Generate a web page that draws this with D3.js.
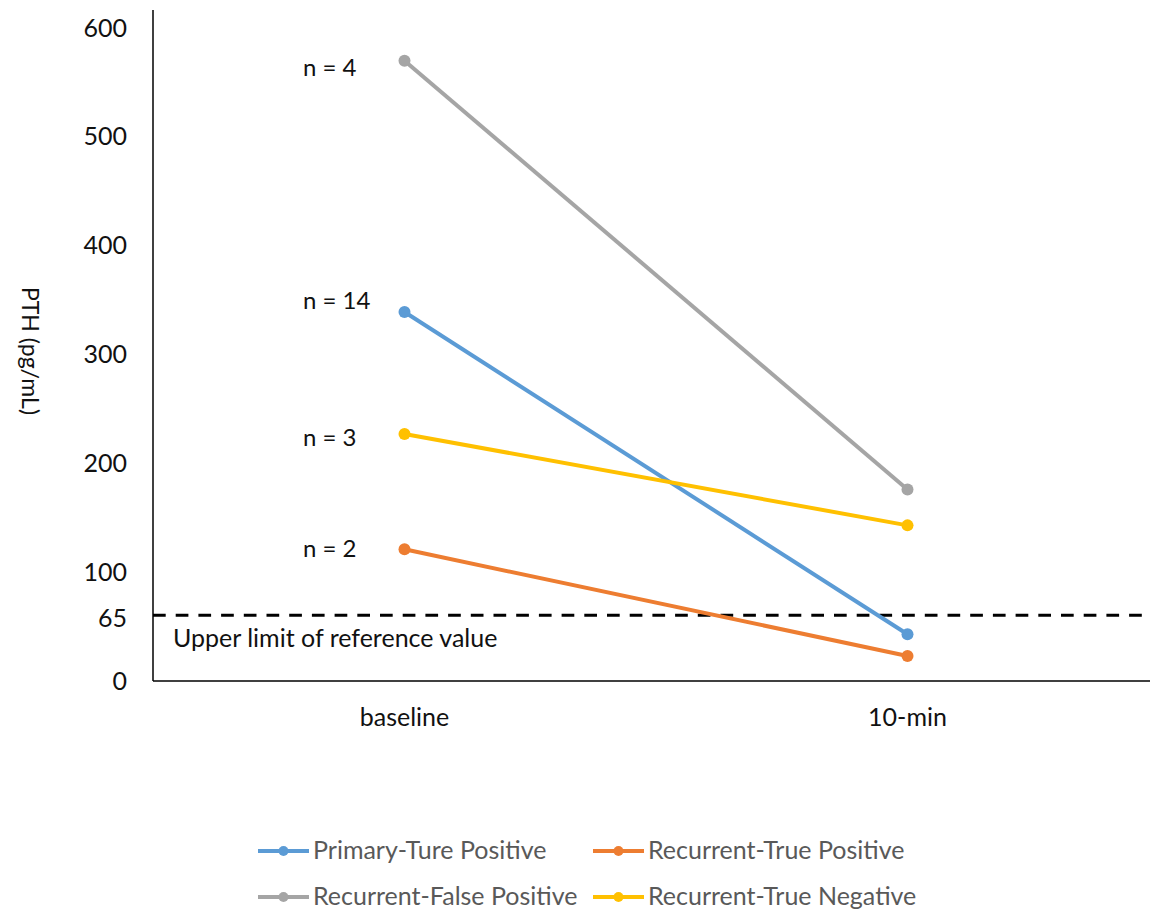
<!DOCTYPE html>
<html>
<head>
<meta charset="utf-8">
<script src="https://cdn.jsdelivr.net/npm/d3@7"></script>
<style>
  body { margin: 0; background: #fff; }
  text { font-family: Lato, "Open Sans", sans-serif; }
</style>
</head>
<body>
<div id="chart"></div>
<script>
// data
const timepoints = ["baseline", "10-min"];
const seriesNames = ["Primary-Ture Positive", "Recurrent-True Positive", "Recurrent-False Positive", "Recurrent-True Negative"];
const seriesColors = ["#5B9BD5", "#ED7D31", "#A5A5A5", "#FFC000"];
const primaryTP = [339, 43];
const recurrentTP = [121, 23];
const recurrentFP = [570, 176];
const recurrentTN = [227, 143];
const sampleSizes = ["n = 14", "n = 2", "n = 4", "n = 3"];
// where each n label sits, in PTH units
const sampleLabelAt = [349, 121, 563, 223];
const yTicks = [0, 100, 200, 300, 400, 500, 600];
// the dashed line is labelled 65 but drawn a bit lower in the original
const refLabel = "65";
const refLineAt = 60.5;

const w = 1150, h = 915;
const plotLeft = 153, plotRight = 1159, plotTop = 10, plotBottom = 681;
const fs = 25;

const svg = d3.select("#chart").append("svg")
  .attr("width", w)
  .attr("height", h);

const x = d3.scaleBand().domain(timepoints).range([plotLeft, plotRight]);
const y = d3.scaleLinear().domain([0, 600]).range([plotBottom, 28]);

const series = [primaryTP, recurrentTP, recurrentFP, recurrentTN].map((vals, i) => ({
  name: seriesNames[i],
  color: seriesColors[i],
  n: sampleSizes[i],
  nAt: sampleLabelAt[i],
  points: timepoints.map((t, j) => ({ t: t, v: vals[j] }))
}));

// axes (Excel style, no tick marks)
const yAxis = d3.axisLeft(y).tickValues(yTicks).tickSize(0).tickPadding(26);
const gy = svg.append("g")
  .attr("transform", "translate(" + plotLeft + ",0)")
  .call(yAxis);
gy.select(".domain").remove();
gy.selectAll("text").attr("font-size", fs).attr("fill", "#111").attr("font-family", "Lato, sans-serif");

svg.append("line")
  .attr("x1", plotLeft).attr("x2", plotLeft)
  .attr("y1", plotTop).attr("y2", plotBottom)
  .attr("stroke", "#000").attr("stroke-width", 1.5);

svg.append("line")
  .attr("x1", plotLeft).attr("x2", w)
  .attr("y1", plotBottom).attr("y2", plotBottom)
  .attr("stroke", "#000").attr("stroke-width", 1.5);

svg.append("text")
  .attr("x", plotLeft - 26)
  .attr("y", y(refLineAt) + 4)
  .attr("dy", "0.32em")
  .attr("text-anchor", "end")
  .attr("font-size", fs)
  .attr("fill", "#111")
  .text(refLabel);

const xAxis = d3.axisBottom(x).tickSize(0).tickPadding(27);
const gx = svg.append("g")
  .attr("transform", "translate(0," + plotBottom + ")")
  .call(xAxis);
gx.select(".domain").remove();
gx.selectAll("text").attr("font-size", fs).attr("fill", "#111").attr("font-family", "Lato, sans-serif");

svg.append("text")
  .attr("transform", "translate(22," + 351 + ") rotate(90)")
  .attr("text-anchor", "middle")
  .attr("font-size", 23)
  .attr("fill", "#111")
  .text("PTH (pg/mL)");

// reference line
svg.append("line")
  .attr("x1", plotLeft).attr("x2", 1146)
  .attr("y1", y(refLineAt)).attr("y2", y(refLineAt))
  .attr("stroke", "#000")
  .attr("stroke-width", 3)
  .attr("stroke-dasharray", "12.7,10");

svg.append("text")
  .attr("x", 173)
  .attr("y", y(refLineAt) + 24)
  .attr("dy", "0.32em")
  .attr("font-size", fs)
  .attr("fill", "#111")
  .text("Upper limit of reference value");

// lines
const line = d3.line()
  .x(d => x(d.t) + x.bandwidth() / 2)
  .y(d => y(d.v));

const g = svg.selectAll(".series")
  .data(series)
  .enter().append("g")
  .attr("class", "series");

g.append("path")
  .attr("d", d => line(d.points))
  .attr("fill", "none")
  .attr("stroke", d => d.color)
  .attr("stroke-width", 4);

g.selectAll("circle")
  .data(d => d.points.map(p => ({ ...p, color: d.color })))
  .enter().append("circle")
  .attr("cx", d => x(d.t) + x.bandwidth() / 2)
  .attr("cy", d => y(d.v))
  .attr("r", 6)
  .attr("fill", d => d.color);

// n labels left of the baseline points
g.append("text")
  .attr("x", 303)
  .attr("y", d => y(d.nAt))
  .attr("dy", "0.32em")
  .attr("font-size", 24)
  .attr("fill", "#111")
  .text(d => d.n);

// legend
const legendPos = [[258, 851], [593, 851], [258, 897], [593, 897]];
const lg = svg.selectAll(".legend")
  .data(series)
  .enter().append("g")
  .attr("class", "legend")
  .attr("transform", (d, i) => "translate(" + legendPos[i][0] + "," + legendPos[i][1] + ")");

lg.append("line")
  .attr("x1", 0).attr("x2", 51)
  .attr("stroke", d => d.color)
  .attr("stroke-width", 4);

lg.append("circle")
  .attr("cx", 25.5)
  .attr("r", 5)
  .attr("fill", d => d.color);

lg.append("text")
  .attr("x", 55)
  .attr("dy", "0.32em")
  .attr("font-size", fs)
  .attr("fill", "#595959")
  .text(d => d.name);
</script>
</body>
</html>
